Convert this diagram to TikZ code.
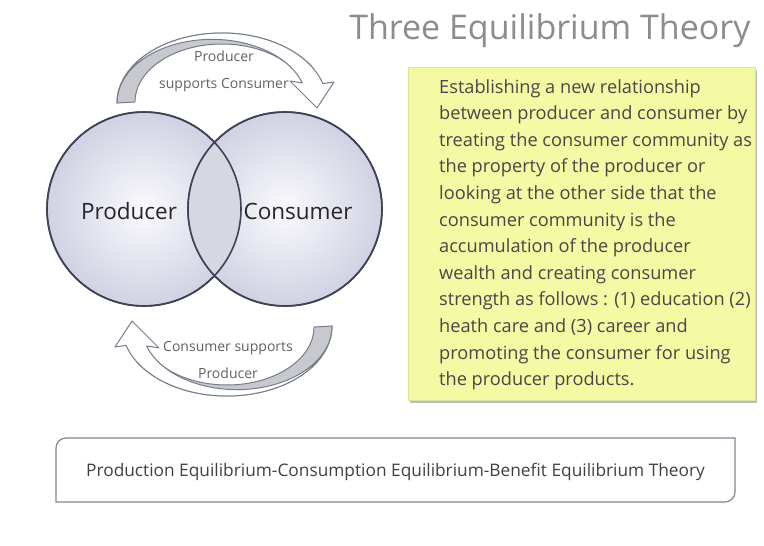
\documentclass[tikz,border=0pt]{standalone}
\usepackage{fontspec}
\setmainfont{Open Sans}
\usetikzlibrary{positioning,shadows}
\definecolor{ring edge}{RGB}{62,66,84}
\definecolor{ring fill}{RGB}{250,250,253}
\definecolor{ring rim}{RGB}{208,210,226}
\definecolor{lens fill}{RGB}{214,215,224}
\definecolor{arrow edge}{RGB}{118,124,140}
\definecolor{arrow back}{RGB}{200,201,206}
\definecolor{note fill}{RGB}{244,249,164}
\definecolor{note edge}{RGB}{222,228,150}
\definecolor{frame edge}{RGB}{128,134,146}
\tikzset{
    % Colors and text
    title text/.style={text=black!45,font=\fontsize{34}{40}\selectfont},
    ring text/.style={text=black!85,font=\fontsize{22.5}{28}\selectfont},
    arrow text/.style={text=black!62,font=\fontsize{14}{27}\selectfont,align=center},
    body text/.style={text=black!72,font=\fontsize{18.2}{26.6}\selectfont,align=left,inner sep=0pt},
    %
    % Shapes
    ring/.style={circle,draw=ring edge,line width=1.6pt,minimum size=194pt,inner sep=0pt,
        inner color=ring fill,outer color=ring rim},
    arrow front/.style={draw=arrow edge,fill=white,line width=1pt,line join=round},
    arrow back/.style={draw=arrow edge,fill=arrow back,line width=1pt},
    note/.style={fill=note fill,draw=note edge,minimum width=347pt,minimum height=333pt,
        drop shadow={shadow xshift=1.5pt,shadow yshift=-3pt,opacity=.45,fill=black!60}},
    frame/.style={draw=frame edge,line width=1.2pt}
}
% one curved block arrow, drawn over the top
\newcommand{\bentarrow}{%
    \fill[arrow back] (117,103) arc[start angle=180,end angle=330,x radius=105,y radius=70]
        -- (297.3,73) arc[start angle=330,end angle=180,x radius=87,y radius=58] -- cycle;
    \draw[arrow front] (117,103) arc[start angle=180,end angle=343.9,x radius=105,y radius=70]
        -- (334,82) -- (317,108) -- (290,81) -- (302.4,83)
        arc[start angle=342.1,end angle=180,x radius=95,y radius=63] -- cycle;
}

\begin{document}
\begin{tikzpicture}[x=1pt,y=-1pt]
    \useasboundingbox (0,0) rectangle (764,546);
    \node[title text,anchor=base east] (title) at (754,39) {Three Equilibrium Theory};

    % the two rings
    \node[ring] (prod) at (144,209) {};
    \node[ring] (cons) at (285,209) {};
    \begin{scope}
        \clip (144,209) circle[radius=97];
        \fill[lens fill] (285,209) circle[radius=97];
    \end{scope}
    \draw[ring edge,line width=1.6pt] (144,209) circle[radius=97] (285,209) circle[radius=97];
    \node[ring text] (prodlabel) at (129,211) {Producer};
    \node[ring text] (conslabel) at (298,211) {Consumer};

    % arrows between them
    \bentarrow
    \begin{scope}[rotate around={180:(224.5,214.5)}]
        \bentarrow
    \end{scope}
    \node[arrow text] (topnote) at (224,71) {Producer\\supports Consumer};
    \node[arrow text] (botnote) at (228,360) {Consumer supports\\Producer};

    % explanation
    \node[note,anchor=north west] (box) at (408,67) {};
    \node[body text,below right=12pt and 31pt of box.north west] (boxtext) {%
        Establishing a new relationship\\
        between producer and consumer by\\
        treating the consumer community as\\
        the property of the producer or\\
        looking at the other side that the\\
        consumer community is the\\
        accumulation of the producer\\
        wealth and creating consumer\\
        strength as follows : (1) education (2)\\
        heath care and (3) career and\\
        promoting the consumer for using\\
        the producer products.};

    % bottom line
    \draw[frame] (56,502) -- (56,448) arc[start angle=180,end angle=270,radius=10]
        -- (735,438) -- (735,492) arc[start angle=0,end angle=90,radius=10] -- cycle;
    \node[body text,text=black!75,font=\fontsize{17.3}{20}\selectfont] (theory) at (395.5,472)
        {Production Equilibrium-Consumption Equilibrium-Benefit Equilibrium Theory};
\end{tikzpicture}
\end{document}
